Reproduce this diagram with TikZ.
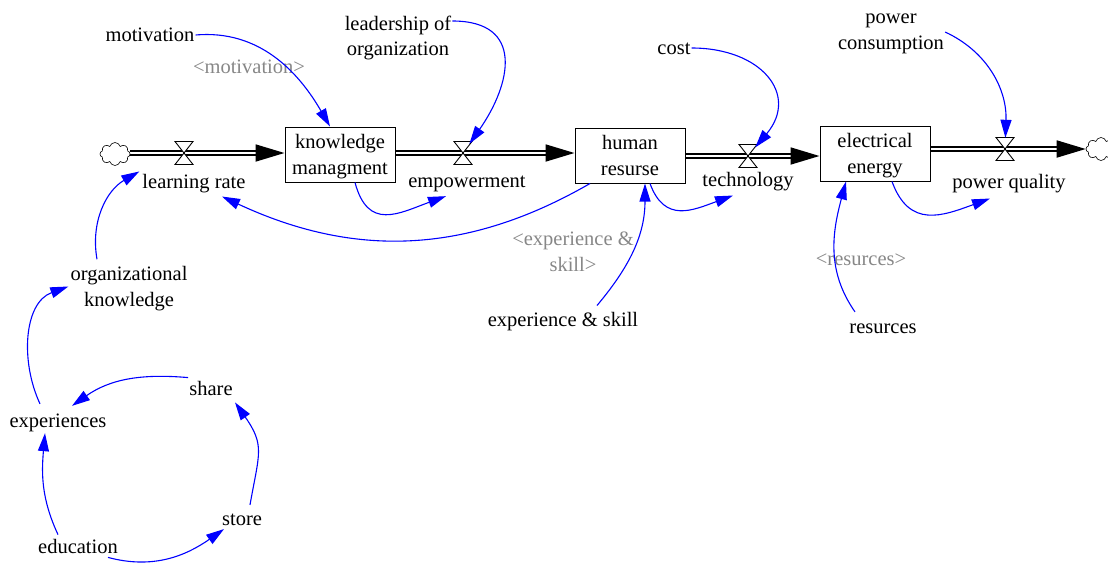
\documentclass[tikz,border=0pt]{standalone}
\usepackage{fontspec}
\setmainfont{Liberation Serif}
\usetikzlibrary{arrows.meta,shapes.symbols,calc}
\pgfdeclarelayer{bg}
\pgfsetlayers{bg,main}
\definecolor{linkblue}{RGB}{0,0,255}
\definecolor{ghostgray}{RGB}{135,135,135}
\tikzset{
  bowtie/.pic={\draw[line width=0.9pt, fill=white] (-9,11.5) -- (9,11.5) -- (-9,-11.5) -- (9,-11.5) -- cycle;},
}
\begin{document}
\begin{tikzpicture}[x=1pt,y=1pt,
  every node/.style={font=\fontsize{20.5}{25.5}\selectfont, inner sep=1pt},
  stock/.style={draw, line width=1pt, minimum width=110pt, minimum height=55pt, align=center, inner sep=0pt, text depth=-1.5pt},
  aux/.style={align=center},
  ghost/.style={align=center, text=ghostgray},
  cloudnode/.style={cloud, cloud puffs=8, draw, line width=0.6pt, fill=white, minimum width=30pt, minimum height=23pt, inner sep=0pt},
  valvept/.style={circle, minimum size=22pt, inner sep=0pt},
  pipe/.style={draw, double, double distance=1.6pt, line width=1.8pt, -{Triangle[length=29pt,width=17pt]}},
  link/.style={draw=linkblue, line width=1.1pt, -{Triangle[length=18pt,width=11pt]}},
]
\useasboundingbox (0,0) rectangle (1108,-563);

% stocks
\node[stock] (km) at (340,-154.5) {knowledge\\managment};
\node[stock] (hr) at (630,-155.5) {human\\resurse};
\node[stock] (el) at (875,-153.5) {electrical\\energy};

% clouds
\node[cloudnode] (c1) at (115,-154) {};
\node[cloudnode] (c2) at (1101,-149) {};

% valves
\node[valvept] (v1) at (184,-153) {};
\node[valvept] (v2) at (463,-153) {};
\node[valvept] (v3) at (748,-156) {};
\node[valvept] (v4) at (1005,-149) {};
\pic at (v1) {bowtie};
\pic at (v2) {bowtie};
\pic at (v3) {bowtie};
\pic at (v4) {bowtie};

% pipes
\begin{pgfonlayer}{bg}
\draw[pipe] (c1.east |- v1) -- (v1 -| km.west);
\draw[pipe] (km.east |- v2) -- (v2 -| hr.west);
\draw[pipe] (hr.east |- v3) -- (v3 -| el.west);
\draw[pipe] (el.east |- v4) -- (c2);
\end{pgfonlayer}

% flow labels
\node[aux] (lr) at (194,-184) {learning rate};
\node[aux] (emp) at (467,-184) {empowerment};
\node[aux] (tech) at (748,-182) {technology};
\node[aux] (pq) at (1009,-184) {power quality};

% auxiliaries
\node[aux] (mot) at (150,-35) {motivation};
\node[ghost] (gmot) at (249,-67) {<motivation>};
\node[aux] (lead) at (398,-38) {leadership of\\organization};
\node[aux] (cost) at (674,-49) {cost};
\node[aux] (pc) at (891,-34) {power\\consumption};
\node[aux] (ok) at (129,-288.5) {organizational\\knowledge};
\node[aux] (exp) at (58,-423) {experiences};
\node[aux] (share) at (211,-388) {share};
\node[aux] (store) at (242,-520) {store};
\node[aux] (edu) at (78,-546) {education};
\node[ghost] (ges) at (573,-252) {<experience \&\\skill>};
\node[aux] (es) at (563,-322) {experience \& skill};
\node[ghost] (gres) at (861,-260) {<resurces>};
\node[aux] (res) at (883,-329) {resurces};

% connectors
\draw[link] (mot.east) to[out=5,in=120] ([xshift=-10pt]km.north);
\draw[link] ([yshift=17pt]lead.east) to[out=0,in=55,looseness=1.5] (v2);
\draw[link] ([yshift=1pt]cost.east) to[out=0,in=50,looseness=1.5] (v3);
\draw[link] ([yshift=2pt]pc.east) to[out=-25,in=88] (v4);
\draw[link] ([xshift=15pt]km.south) to[out=-75,in=200,looseness=1.4] ([xshift=-21pt,yshift=-3pt]emp.south);
\draw[link] ([xshift=-40pt]hr.south) to[out=-150,in=-25] ([xshift=28pt,yshift=-2pt]lr.south);
\draw[link] ([xshift=20pt]hr.south) to[out=-70,in=200,looseness=1.3] ([xshift=-15pt,yshift=-3pt]tech.south);
\draw[link] ([xshift=17pt]el.south) to[out=-70,in=200,looseness=1.3] ([xshift=-19pt,yshift=-4pt]pq.south);
\draw[link] ([xshift=34pt,yshift=6pt]es.north) to[out=50,in=-90] ([xshift=15pt]hr.south);
\draw[link] ([xshift=-28pt,yshift=11pt]res.north) to[out=125,in=-105] ([xshift=-29pt]el.south);
\draw[link] ([xshift=-32pt,yshift=6pt]ok.north) to[out=100,in=210] ([xshift=-2pt,yshift=2pt]lr.north west);
\draw[link] ([xshift=-18pt,yshift=9pt]exp.north) to[out=115,in=200] ([xshift=-1pt,yshift=2pt]ok.west);
\draw[link] ([yshift=2pt]share.north west) to[out=175,in=35] ([xshift=14pt,yshift=7pt]exp.north);
\draw[link] ([xshift=-20pt,yshift=3pt]edu.north) to[out=115,in=-95] ([xshift=-13pt]exp.south);
\draw[link] ([xshift=8pt,yshift=8pt]store.north) to[out=80,in=-55,looseness=1.3] ([xshift=24pt,yshift=-6pt]share.south);
\draw[link] ([xshift=30pt,yshift=-3pt]edu.south) to[out=-15,in=215] ([xshift=-18pt,yshift=-2pt]store.south);
\end{tikzpicture}
\end{document}
